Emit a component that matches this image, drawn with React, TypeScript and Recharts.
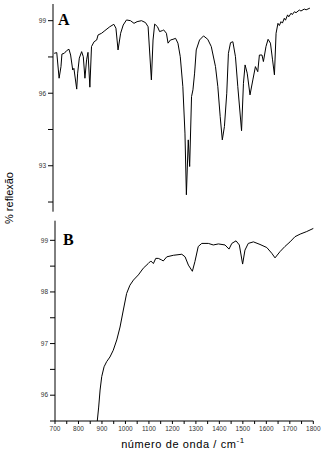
import React from 'react';
import { LineChart, Line, XAxis, YAxis } from 'recharts';

// spectrum A
const waveA = [705, 716, 726, 734, 738, 748, 758, 768, 775, 784, 789, 801, 805, 812, 822, 829, 836, 843, 849, 857, 864, 875, 886, 892, 907, 921, 942, 959, 968, 977, 988, 999, 1013, 1030, 1045, 1058, 1077, 1094, 1105, 1119, 1126, 1133, 1145, 1154, 1166, 1171, 1183, 1190, 1200, 1211, 1222, 1232, 1242, 1253, 1262, 1268, 1276, 1282, 1290, 1296, 1303, 1310, 1324, 1341, 1359, 1374, 1392, 1402, 1412, 1421, 1430, 1440, 1447, 1456, 1466, 1477, 1487, 1503, 1511, 1518, 1527, 1539, 1551, 1562, 1572, 1579, 1590, 1596, 1607, 1616, 1626, 1635, 1643, 1650, 1658, 1664, 1671, 1677, 1685, 1690, 1699, 1704, 1714, 1719, 1728, 1735, 1749, 1756, 1770, 1778, 1794];
const reflA = [97.65, 97.68, 96.62, 97.1, 97.62, 97.65, 97.76, 97.82, 97.58, 96.96, 97.03, 96.17, 96.83, 97.45, 97.72, 97.51, 96.62, 97.38, 97.69, 96.25, 97.93, 98.13, 98.2, 98.41, 98.48, 98.59, 98.75, 98.85, 98.69, 97.79, 98.48, 98.82, 99.03, 99.0, 98.89, 98.96, 99.0, 98.92, 98.75, 96.55, 98.2, 98.86, 98.75, 98.55, 98.59, 98.62, 98.48, 98.07, 98.2, 98.23, 98.27, 98.07, 97.51, 96.27, 94.35, 91.8, 94.07, 92.97, 95.86, 96.14, 96.83, 97.79, 98.2, 98.37, 98.23, 97.93, 97.1, 96.27, 95.03, 94.07, 94.62, 96.0, 97.65, 98.09, 98.13, 97.51, 96.27, 94.45, 96.41, 97.17, 96.83, 95.93, 96.55, 97.1, 96.89, 97.58, 97.58, 97.31, 97.93, 98.23, 98.07, 97.38, 96.76, 98.48, 98.89, 98.8, 98.96, 98.9, 99.1, 99.02, 99.24, 99.16, 99.31, 99.25, 99.37, 99.33, 99.44, 99.4, 99.48, 99.45, 99.52];

// spectrum B
const waveB = [880, 886, 892, 899, 909, 920, 934, 948, 963, 977, 991, 1005, 1019, 1034, 1055, 1076, 1097, 1108, 1119, 1129, 1140, 1154, 1161, 1176, 1204, 1240, 1254, 1268, 1285, 1296, 1310, 1325, 1353, 1374, 1396, 1424, 1441, 1453, 1471, 1485, 1499, 1509, 1523, 1545, 1573, 1602, 1623, 1637, 1658, 1679, 1701, 1722, 1744, 1772, 1800];
const reflB = [95.5, 95.77, 96.1, 96.36, 96.55, 96.65, 96.74, 96.87, 97.07, 97.32, 97.65, 97.97, 98.13, 98.23, 98.33, 98.46, 98.55, 98.6, 98.55, 98.65, 98.65, 98.62, 98.6, 98.68, 98.71, 98.73, 98.68, 98.52, 98.4, 98.59, 98.88, 98.94, 98.94, 98.91, 98.93, 98.91, 98.83, 98.94, 98.99, 98.91, 98.54, 98.81, 98.94, 98.97, 98.92, 98.86, 98.75, 98.66, 98.78, 98.88, 98.97, 99.07, 99.12, 99.17, 99.23];

const ticksA = [91.5, 93, 94.5, 96, 97.5, 99];
const labelsA = [93, 96, 99];
const ticksB = [95.5, 96, 96.5, 97, 97.5, 98, 98.5, 99];
const labelsB = [96, 97, 98, 99];
const ticksX = [700, 750, 800, 850, 900, 950, 1000, 1050, 1100, 1150, 1200, 1250, 1300, 1350, 1400, 1450, 1500, 1550, 1600, 1650, 1700, 1750, 1800];

const dataA = waveA.map((x, i) => ({ x, y: reflA[i] }));
const dataB = waveB.map((x, i) => ({ x, y: reflB[i] }));

const tickStyle = { fontSize: 6.5, fill: '#333', fontFamily: 'Liberation Sans, Arial, sans-serif' };

const App: React.FC = () => {
  return (
    <div style={{ position: 'absolute', left: 0, top: 0, width: 329, height: 463, background: '#fff' }}>
      <div style={{ position: 'absolute', left: 0, top: 0 }}>
        <LineChart width={329} height={215} data={dataA} margin={{ top: 4, right: 17.7, bottom: 3.3, left: 0 }}>
          <XAxis type="number" dataKey="x" domain={[700, 1800]} hide />
          <YAxis
            type="number"
            domain={[91.1, 99.69]}
            ticks={ticksA}
            width={53}
            tickSize={5}
            tickMargin={2}
            stroke="#000"
            tick={tickStyle}
            tickFormatter={(v: number) => (labelsA.includes(v) ? String(v) : '')}
            allowDataOverflow
          />
          <Line type="linear" dataKey="y" stroke="#000" strokeWidth={1} dot={false} isAnimationActive={false} />
        </LineChart>
      </div>
      <div style={{ position: 'absolute', left: 0, top: 215 }}>
        <LineChart width={329} height={248} data={dataB} margin={{ top: 5.7, right: 15.7, bottom: 22, left: 0 }}>
          <XAxis
            type="number"
            dataKey="x"
            domain={[700, 1800]}
            ticks={ticksX}
            height={20}
            tickSize={3}
            tickMargin={2}
            stroke="#000"
            tick={tickStyle}
            tickFormatter={(v: number) => (v % 100 === 0 ? String(v) : '')}
          />
          <YAxis
            type="number"
            domain={[95.5, 99.38]}
            ticks={ticksB}
            width={55}
            tickSize={5}
            tickMargin={2}
            stroke="#000"
            tick={tickStyle}
            tickFormatter={(v: number) => (labelsB.includes(v) ? String(v) : '')}
            allowDataOverflow
          />
          <Line type="linear" dataKey="y" stroke="#000" strokeWidth={1} dot={false} isAnimationActive={false} />
        </LineChart>
      </div>
      <div style={{ position: 'absolute', left: 58, top: 11, font: 'bold 16px "Liberation Serif", serif' }}>A</div>
      <div style={{ position: 'absolute', left: 63, top: 231, font: 'bold 16px "Liberation Serif", serif' }}>B</div>
      <div
        style={{
          position: 'absolute',
          left: 9,
          top: 198,
          transform: 'translate(-50%, -50%) rotate(-90deg)',
          whiteSpace: 'nowrap',
          font: '11px "Liberation Sans", Arial, sans-serif',
        }}
      >
        % reflexão
      </div>
      <div
        style={{
          position: 'absolute',
          left: 183,
          top: 443,
          transform: 'translate(-50%, -50%)',
          whiteSpace: 'nowrap',
          font: '11px "Liberation Sans", Arial, sans-serif',
          letterSpacing: 0.6,
        }}
      >
        número de onda / cm<sup style={{ fontSize: 8 }}>-1</sup>
      </div>
    </div>
  );
};

export default App;
